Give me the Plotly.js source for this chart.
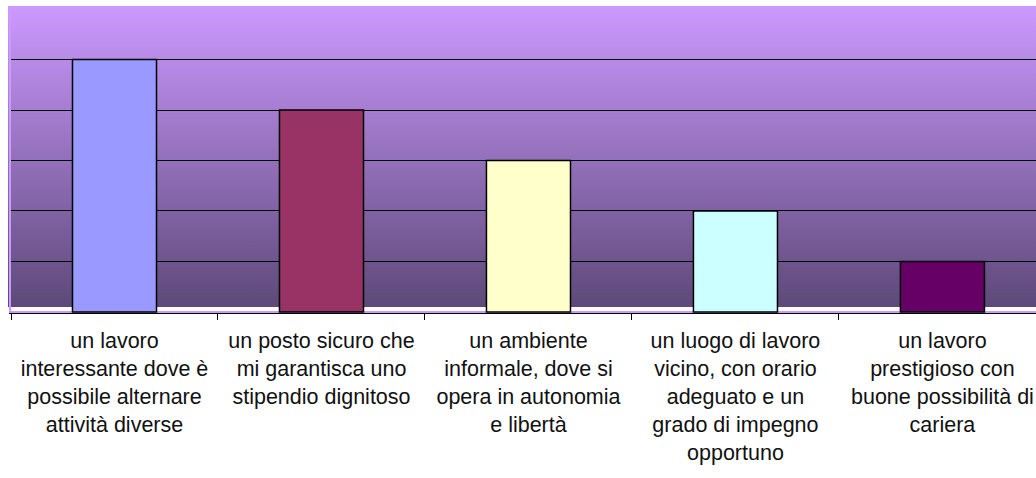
<!DOCTYPE html>
<html>
<head>
<meta charset="utf-8">
<script src="https://cdn.plot.ly/plotly-3.0.1.min.js"></script>
<style>
  html, body { margin: 0; padding: 0; background: #ffffff; }
  #wrap { position: relative; width: 1036px; height: 478px; overflow: hidden; }
  #bg { position: absolute; left: 8px; top: 6px; width: 1028px; height: 301px;
        background: linear-gradient(to bottom, #cc99ff 0%, #5d4979 100%); }
  #chart { position: absolute; left: 0; top: 0; width: 1036px; height: 478px; }
</style>
</head>
<body>
<div id="wrap">
  <div id="bg"></div>
  <div id="chart"></div>
</div>
<script>
const categories = [
  "un lavoro<br>interessante dove è<br>possibile alternare<br>attività diverse",
  "un posto sicuro che<br>mi garantisca uno<br>stipendio dignitoso",
  "un ambiente<br>informale, dove si<br>opera in autonomia<br>e libertà",
  "un luogo di lavoro<br>vicino, con orario<br>adeguato e un<br>grado di impegno<br>opportuno",
  "un lavoro<br>prestigioso con<br>buone possibilità di<br>cariera"
];
const values = [5, 4, 3, 2, 1];
const barColors = ["#9999ff", "#993366", "#ffffcc", "#ccffff", "#660066"];

const trace = {
  type: "bar",
  x: categories,
  y: values,
  marker: { color: barColors, line: { color: "#000000", width: 1.5 } },
  hoverinfo: "skip"
};

const layout = {
  width: 1036,
  height: 478,
  margin: { l: 11, r: 0, t: 9, b: 165, pad: 0 },
  paper_bgcolor: "rgba(0,0,0,0)",
  plot_bgcolor: "rgba(0,0,0,0)",
  showlegend: false,
  bargap: 0.594,
  font: { family: "Liberation Sans, Arial, sans-serif", size: 21.5, color: "#111111" },
  xaxis: {
    type: "category",
    range: [-0.5, 4.452],
    showgrid: false,
    showline: true,
    linecolor: "#000000",
    linewidth: 1,
    ticks: "outside",
    tickson: "boundaries",
    ticklen: 6,
    tickwidth: 1,
    tickcolor: "#000000",
    tickangle: 0,
    ticklabelstandoff: 8,
    tickfont: { family: "Liberation Sans, Arial, sans-serif", size: 21.5, color: "#111111" },
    fixedrange: true
  },
  yaxis: {
    range: [-0.02, 6],
    dtick: 1,
    tick0: 0,
    showticklabels: false,
    ticks: "",
    showgrid: true,
    gridcolor: "#000000",
    gridwidth: 1,
    zeroline: true,
    zerolinecolor: "#cc99ff",
    zerolinewidth: 2,
    showline: true,
    linecolor: "#cc99ff",
    linewidth: 2,
    fixedrange: true
  }
};

Plotly.newPlot("chart", [trace], layout, { staticPlot: true, displayModeBar: false });
</script>
</body>
</html>
